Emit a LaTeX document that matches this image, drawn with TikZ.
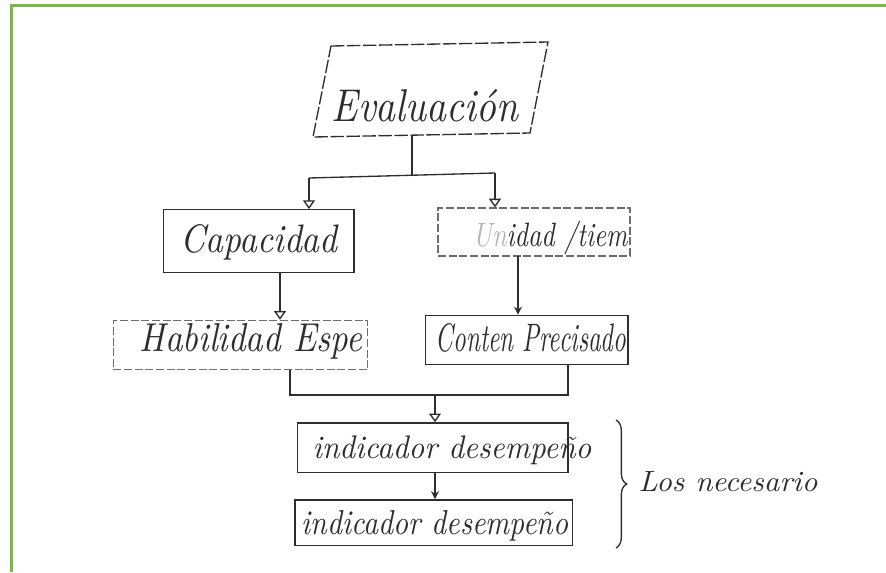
\documentclass[tikz,border=0pt]{standalone}
\usetikzlibrary{arrows.meta,decorations.pathreplacing}
\definecolor{frame}{HTML}{7AB648}
\definecolor{ink}{HTML}{2E2E2E}
% hand-lettered words: stretched to a given width and height
\newcommand{\hw}[3]{\resizebox{#1}{#2}{\itshape #3}}
\tikzset{
  pen/.style={draw=ink, line width=1pt},
  faint/.style={draw=ink!70, line width=0.9pt, dash pattern=on 6pt off 2pt},
  box/.style={pen, rectangle, inner sep=0pt},
  fbox/.style={faint, rectangle, inner sep=0pt},
  word/.style={text=ink, inner sep=0pt},
  openhead/.style={-{Triangle[open, width=9pt, length=6.5pt]}},
  fullhead/.style={-{Stealth[width=6pt, length=6pt]}}
}
\begin{document}
\begin{tikzpicture}[x=0.75pt, y=-0.75pt]
\useasboundingbox (0,0) rectangle (886,572);
\fill[white] (0,0) rectangle (886,572);
% green frame along the top and left edges
\draw[frame, line width=2.25pt] (886,5.5) -- (11.5,5.5) -- (11.5,572);

% top box, drawn slanted
\draw[pen, dash pattern=on 10pt off 2pt] (331,46) -- (548,42) -- (530,133) -- (313,137) -- cycle;
\node[word] (teval) at (425,106) {\hw{140pt}{24pt}{Evaluación}};

% boxes
\node[box,  minimum width=143pt, minimum height=47pt] (cap) at (258.5,241) {};
\node[fbox, minimum width=144pt, minimum height=36pt] (uni) at (534,232) {};
\node[fbox, minimum width=191pt, minimum height=37pt] (hab) at (240.5,345) {};
\node[box,  minimum width=152pt, minimum height=37pt] (con) at (526.5,340) {};
\node[box,  minimum width=203pt, minimum height=37pt] (ind1) at (432.5,447.5) {};
\node[box,  minimum width=208pt, minimum height=34pt] (ind2) at (433.5,522.5) {};

% box texts
\node[word] (tcap) at (259,242) {\hw{118pt}{21pt}{Capacidad}};
\node[word] (tuni) at (550,238) {\hw{116pt}{19pt}{{\color{ink!35}Un}idad /tiem}};
\node[word] (thab) at (251,341) {\hw{167pt}{21pt}{Habilidad Espe}};
\node[word] (tcon) at (531,338) {\hw{143pt}{21pt}{Conten Precisado}};
\node[word] (tind1) at (452,450) {\hw{209pt}{17pt}{indicador desempeño}};
\node[word] (tind2) at (435,526) {\hw{200pt}{18pt}{indicador desempeño}};
\node[word] (tnec) at (728,482) {\hw{134pt}{15pt}{Los necesario}};

% branching from the top box
\coordinate (eb) at (412,135);
\coordinate (jm) at (412,175);
\coordinate (jl) at (309,178);
\coordinate (jr) at (495,173);
\draw[pen] (eb) -- (jm);
\draw[pen] (jl) -- (jr);
\draw[pen, openhead] (jl) -- (jl |- cap.north);
\draw[pen, openhead] (jr) -- (jr |- uni.north);

% second level
\coordinate (cs) at (280,272);
\draw[pen, openhead] (cs) -- (cs |- hab.north);
\coordinate (us) at (518,256);
\draw[pen, fullhead] (us) -- (us |- con.north);

% merge into the first indicator box
\coordinate (hs) at (290,370);
\coordinate (hm) at (290,395);
\coordinate (cns) at (568,365);
\coordinate (cm) at (568,395);
\coordinate (mm) at (435,395);
\draw[pen] (hs) -- (hm) -- (cm) -- (cns);
\draw[pen, openhead] (mm) -- (mm |- ind1.north);

% first indicator to second
\coordinate (is) at (435,472);
\draw[pen, fullhead] (is) -- (is |- ind2.north);

% brace grouping both indicators
\coordinate (bt) at (616,420);
\coordinate (bb) at (616,548);
\draw[pen, decorate, decoration={brace, amplitude=8pt}] (bt) -- (bb);
\end{tikzpicture}
\end{document}
